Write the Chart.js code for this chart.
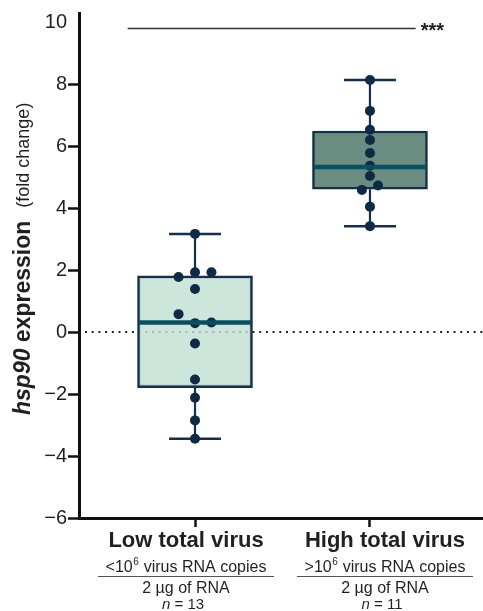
<!DOCTYPE html>
<html>
<head>
<meta charset="utf-8">
<script src="https://cdn.jsdelivr.net/npm/chart.js@4/dist/chart.umd.min.js"></script>
<style>
  html, body { margin: 0; padding: 0; background: #ffffff; }
  #wrap { width: 483px; height: 611px; position: relative; }
</style>
</head>
<body>
<div id="wrap"><canvas id="c" width="483" height="611"></canvas></div>
<script>
// ---------------- DATA ----------------
const categories = ['Low total virus', 'High total virus'];
const catPos = [1, 2];
const copyPrefix = ['<', '>'];
const copyBase = '10';
const copyExp = '6';
const copyRest = ' virus RNA copies';
const rnaLabels = ['2 µg of RNA', '2 µg of RNA'];
const nCounts = [13, 11];

const lowValues  = [3.17, 1.78, 1.93, 1.93, 1.39, 0.58, 0.29, 0.31, -0.37, -1.53, -2.12, -2.85, -3.44];
const lowJitter  = [0, -1, 0, 1, 0, -1, 0, 1, 0, 0, 0, 0, 0];
const highValues = [8.14, 7.14, 6.53, 6.20, 5.78, 5.37, 5.04, 4.59, 4.73, 4.05, 3.42];
const highJitter = [0, 0, 0, 0, 0, 0, 0, -1, 1, 0, 0];

const whiskerLow  = [-3.44, 3.42];
const q1          = [-1.79, 4.61];
const median      = [0.31, 5.33];
const q3          = [1.82, 6.49];
const whiskerHigh = [3.17, 8.14];

const yTicks = [-6, -4, -2, 0, 2, 4, 6, 8, 10];
const sigFrom = 0.615, sigTo = 2.261, sigY = 9.8;
const sigLabel = '***';

// ---------------- STYLE ----------------
const FONT = '"Liberation Sans", Arial, Helvetica, sans-serif';
const TEXT = '#231f20';
const NAVY = '#16304a';
const DOT = '#0f2a45';
const MEDIAN_C = '#0a4f5f';
const boxFill = ['rgba(192,224,211,0.8)', '#6b8c81'];
const jitterStep = [0.094, 0.046];
const labelShift = [-9, 15];

// ---------------- BUILD DATASETS ----------------
const groups = [lowValues, highValues];
const jitters = [lowJitter, highJitter];
const pointData = [];
groups.forEach((vals, g) => {
  vals.forEach((v, i) => pointData.push({ x: catPos[g] + jitters[g][i] * jitterStep[g], y: v }));
});

const whiskerSets = catPos.map((c, g) => ({
  type: 'line',
  data: [
    { x: c, y: whiskerHigh[g] }, { x: c, y: q3[g] }, { x: c, y: null },
    { x: c, y: q1[g] }, { x: c, y: whiskerLow[g] }
  ],
  borderColor: NAVY, borderWidth: 2.2, pointRadius: 0, spanGaps: false, order: 5
}));

const datasets = [
  ...whiskerSets,
  {
    type: 'bar',
    data: catPos.map((c, g) => ({ x: c, y: [q1[g], q3[g]] })),
    backgroundColor: boxFill,
    borderColor: NAVY,
    borderWidth: 2.5,
    borderSkipped: false,
    barThickness: 115,
    order: 4
  },
  {
    type: 'scatter',
    data: catPos.flatMap((c, g) => [{ x: c, y: whiskerLow[g] }, { x: c, y: whiskerHigh[g] }]),
    pointStyle: 'line', pointRadius: 26, pointBorderWidth: 2.5,
    pointBorderColor: NAVY, pointBackgroundColor: NAVY, order: 3
  },
  {
    type: 'scatter',
    data: pointData,
    pointRadius: 5, pointBorderWidth: 0,
    pointBackgroundColor: DOT, order: 2
  },
  {
    type: 'scatter',
    data: catPos.map((c, g) => ({ x: c, y: median[g] })),
    pointStyle: 'line', pointRadius: 56, pointBorderWidth: 4.5,
    pointBorderColor: MEDIAN_C, pointBackgroundColor: MEDIAN_C, order: 1
  },
  {
    type: 'line',
    data: [{ x: sigFrom, y: sigY }, { x: sigTo, y: sigY }],
    borderColor: '#333', borderWidth: 1.3, pointRadius: 0, order: 6
  }
];

// ---------------- PLUGIN: annotations & labels ----------------
const annot = {
  id: 'annot',
  beforeDatasetsDraw(chart) {
    const { ctx, chartArea, scales } = chart;
    const y0 = scales.y.getPixelForValue(0);
    ctx.save();
    ctx.strokeStyle = '#222';
    ctx.lineWidth = 2;
    ctx.setLineDash([2, 4.7]);
    ctx.beginPath();
    ctx.moveTo(chartArea.left + 6, y0);
    ctx.lineTo(chartArea.right, y0);
    ctx.stroke();
    ctx.restore();
  },
  afterDraw(chart) {
    const { ctx, scales } = chart;
    ctx.save();
    ctx.fillStyle = TEXT;
    // significance stars
    ctx.font = 'bold 20px ' + FONT;
    ctx.textAlign = 'left';
    ctx.textBaseline = 'alphabetic';
    ctx.fillText(sigLabel, scales.x.getPixelForValue(sigTo) + 5, scales.y.getPixelForValue(sigY) + 9);

    // category labels
    categories.forEach((name, g) => {
      const cx = scales.x.getPixelForValue(catPos[g]) + labelShift[g];
      ctx.textAlign = 'center';
      ctx.font = 'bold 22px ' + FONT;
      ctx.fillText(name, cx, 547);

      // copies line with superscript
      ctx.textAlign = 'left';
      const fMain = '16px ' + FONT, fSup = '10px ' + FONT;
      ctx.font = fMain;
      const a = copyPrefix[g] + copyBase;
      const wa = ctx.measureText(a).width;
      const wr = ctx.measureText(copyRest).width;
      ctx.font = fSup;
      const ws = ctx.measureText(copyExp).width + 1;
      const total = wa + ws + wr;
      let x = cx - total / 2;
      ctx.font = fMain; ctx.fillText(a, x, 572); x += wa;
      ctx.font = fSup; ctx.fillText(copyExp, x + 0.5, 565); x += ws;
      ctx.font = fMain; ctx.fillText(copyRest, x, 572);

      ctx.strokeStyle = '#555';
      ctx.lineWidth = 1;
      ctx.beginPath();
      ctx.moveTo(cx - 88, 576.5);
      ctx.lineTo(cx + 88, 576.5);
      ctx.stroke();

      ctx.textAlign = 'center';
      ctx.font = '16px ' + FONT;
      ctx.fillText(rnaLabels[g], cx, 593);

      // n = xx
      const fi = 'italic 15px ' + FONT, fr = '15px ' + FONT;
      ctx.textAlign = 'left';
      ctx.font = fi; const wn = ctx.measureText('n').width;
      ctx.font = fr; const rest = ' = ' + nCounts[g]; const wrest = ctx.measureText(rest).width;
      const sx = cx - 3 - (wn + wrest) / 2;
      ctx.font = fi; ctx.fillText('n', sx, 609);
      ctx.font = fr; ctx.fillText(rest, sx + wn, 609);
    });

    // y-axis title (rotated)
    ctx.translate(24, 415);
    ctx.rotate(-Math.PI / 2);
    ctx.textAlign = 'left';
    ctx.textBaseline = 'middle';
    ctx.font = 'italic bold 23px ' + FONT;
    ctx.fillText('hsp90', 0, 0);
    let w = ctx.measureText('hsp90').width;
    ctx.font = 'bold 23px ' + FONT;
    ctx.fillText(' expression', w, 0);
    w += ctx.measureText(' expression').width;
    ctx.font = '18px ' + FONT;
    ctx.fillText('(fold change)', w + 13, 0);
    ctx.restore();
  }
};

// ---------------- CHART ----------------
new Chart(document.getElementById('c'), {
  type: 'bar',
  data: { datasets },
  plugins: [annot],
  options: {
    responsive: false,
    animation: false,
    events: [],
    layout: { autoPadding: false, padding: { top: 13, left: 0, right: 0, bottom: 0 } },
    plugins: { legend: { display: false }, tooltip: { enabled: false } },
    scales: {
      x: {
        type: 'linear',
        min: 0.337,
        max: 2.646,
        offset: false,
        afterBuildTicks: (s) => { s.ticks = catPos.map(v => ({ value: v })); },
        afterFit: (s) => { s.height = 93; },
        ticks: { display: false },
        grid: {
          display: true, offset: false, drawOnChartArea: false, drawTicks: true,
          tickLength: 9, tickWidth: 2.5, tickColor: '#111'
        },
        border: { display: true, color: '#111', width: 3 }
      },
      y: {
        type: 'linear',
        min: -6,
        max: 10.3,
        afterBuildTicks: (s) => { s.ticks = yTicks.map(v => ({ value: v })); },
        afterFit: (s) => { s.width = 79; },
        ticks: {
          color: TEXT, padding: 1,
          font: { family: FONT, size: 20 },
          callback: (v) => (v < 0 ? '\u2212' + Math.abs(v) : String(v))
        },
        grid: {
          display: true, offset: false, drawOnChartArea: false, drawTicks: true,
          tickLength: 11, tickWidth: 2.5,
          tickColor: (c) => (c.tick && c.tick.value === 10 ? 'rgba(0,0,0,0)' : '#111')
        },
        border: { display: true, color: '#111', width: 3 }
      }
    }
  }
});
</script>
</body>
</html>
